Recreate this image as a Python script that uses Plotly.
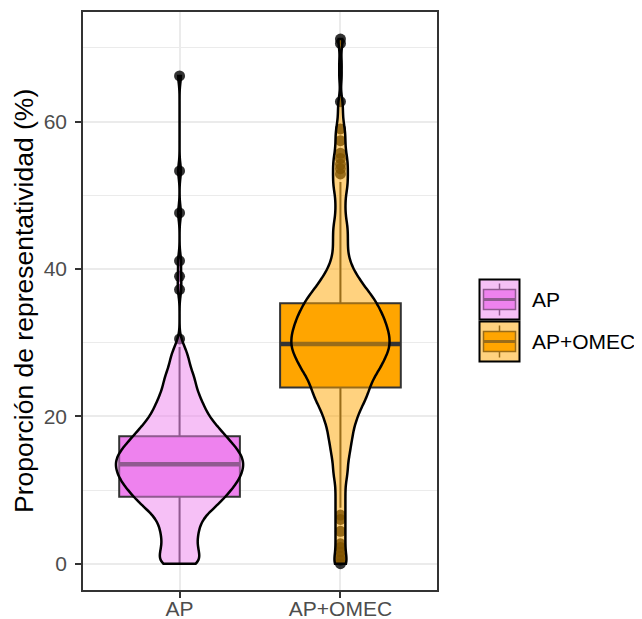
import numpy as np
import plotly.graph_objects as go

# ---------------- data ----------------
categories = ["AP", "AP+OMEC"]

# boxplot statistics
q1 = [9.1, 23.9]
medians = [13.5, 29.8]
q3 = [17.3, 35.35]
whisker_low = [0.0, 7.6]
whisker_high = [29.4, 51.8]

# outlier points
ap_outliers = [30.5, 37.2, 39.0, 41.1, 47.6, 53.3, 66.2]
omec_outliers = [0.0, 0.5, 1.0, 1.6, 2.2, 2.7, 4.4, 6.0, 6.6,
                 52.9, 53.6, 54.2, 55.0, 55.7, 57.4, 59.0, 62.7, 70.6, 71.2]

# estimated distribution of the observations (value -> count), for the violins
ap_values = list(range(0, 31)) + [37.2, 39.0, 41.1, 47.6, 53.3, 66.2]
ap_counts = [8, 6, 6, 5, 6, 6, 7, 9, 12, 14,
             16, 18, 19, 20, 20, 19, 17, 15, 13, 11,
             9, 8, 7, 6, 5, 5, 4, 3, 3, 2,
             1] + [1, 1, 1, 1, 1, 1]

omec_values = list(range(0, 64)) + [66, 68, 70.6, 71.2]
omec_counts = [4, 2, 2, 2, 2, 2, 2, 2, 2, 2,
               2, 2, 3, 3, 3, 4, 4, 5, 5, 6,
               7, 8, 10, 11, 12, 13, 15, 17, 18, 20,
               20, 20, 19, 18, 17, 15, 14, 11, 9, 7,
               5, 4, 3, 3, 3, 3, 3, 2, 2, 2,
               2, 3, 3, 3, 3, 3, 2, 2, 2, 2,
               1, 1, 1, 1] + [1, 1, 1, 1]

# ---------------- styling ----------------
FONT = "Liberation Sans, Arial, sans-serif"
fill_colors = ["#EE82EE", "#FFA500"]
violin_fills = ["rgba(238,130,238,0.5)", "rgba(255,165,0,0.5)"]
violin_widths = [0.79, 0.61]
box_line = "#333333"
grid = "#EBEBEB"

# the page body has an 8px margin; work in figure pixels
OFF = 8
FIG_W, FIG_H = 642 - OFF, 619 - OFF
L, R, T, B = 83 - OFF, 437 - OFF, 12 - OFF, 590 - OFF
W, H = R - L, B - T

samples = [np.repeat(ap_values, ap_counts), np.repeat(omec_values, omec_counts)]
outliers = [ap_outliers, omec_outliers]

fig = go.Figure()

for i, cat in enumerate(categories):
    fig.add_trace(go.Box(
        x=[cat], q1=[q1[i]], median=[medians[i]], q3=[q3[i]],
        lowerfence=[whisker_low[i]], upperfence=[whisker_high[i]],
        orientation="v", fillcolor=fill_colors[i],
        line=dict(color=box_line, width=2), width=0.75, whiskerwidth=0,
        boxpoints=False, showlegend=False, hoverinfo="skip"))
    # thicker median line
    fig.add_trace(go.Box(
        x=[cat], q1=[medians[i]], median=[medians[i]], q3=[medians[i]],
        lowerfence=[medians[i]], upperfence=[medians[i]],
        orientation="v", fillcolor="rgba(0,0,0,0)",
        line=dict(color=box_line, width=4.5), width=0.75, whiskerwidth=0,
        boxpoints=False, showlegend=False, hoverinfo="skip"))

for i, cat in enumerate(categories):
    fig.add_trace(go.Scatter(
        x=[cat] * len(outliers[i]), y=outliers[i], mode="markers",
        marker=dict(color="rgba(0,0,0,0.8)", size=11, line=dict(width=0)),
        showlegend=False, hoverinfo="skip"))

for i, cat in enumerate(categories):
    fig.add_trace(go.Violin(
        x=[cat] * len(samples[i]), y=samples[i], xaxis="x2", yaxis="y2",
        width=violin_widths[i], scalemode="width", spanmode="hard",
        bandwidth=1.0, side="both", fillcolor=violin_fills[i],
        line=dict(color="black", width=2.5), points=False,
        box_visible=False, meanline_visible=False,
        showlegend=False, hoverinfo="skip"))

yrange = [-3.57, 74.87]
xrange = [-0.6, 1.6]

axis_common = dict(
    showline=True, mirror=True, linecolor="#333333", linewidth=1.6,
    ticks="outside", ticklen=6, tickwidth=2, tickcolor="#333333",
    tickfont=dict(family=FONT, size=21, color="#4D4D4D"),
    showgrid=True, gridcolor=grid, gridwidth=2, zeroline=False,
)

fig.update_layout(
    width=FIG_W, height=FIG_H,
    margin=dict(l=L, r=FIG_W - R, t=T, b=FIG_H - B, autoexpand=False),
    paper_bgcolor="white", plot_bgcolor="white",
    boxmode="overlay", violinmode="overlay",
    showlegend=False,
    font=dict(family=FONT),
    xaxis=dict(type="category", categoryorder="array", categoryarray=categories,
               range=xrange, automargin=False, ticklabelstandoff=-7,
               **axis_common),
    yaxis=dict(range=yrange, tickvals=[0, 20, 40, 60], automargin=False,
               ticklabelstandoff=4,
               minor=dict(tickvals=[10, 30, 50, 70], showgrid=True,
                          gridcolor=grid, gridwidth=1, ticks=""),
               **axis_common),
    xaxis2=dict(type="category", categoryorder="array", categoryarray=categories,
                range=xrange, overlaying="x", anchor="y2", visible=False,
                showgrid=False),
    yaxis2=dict(range=yrange, overlaying="y", anchor="x2", visible=False,
                showgrid=False),
)

# y-axis title
fig.add_annotation(
    text="Proporción de representatividad (%)", textangle=-90,
    xref="paper", yref="paper", x=(24 - OFF - L) / W, y=0.5,
    xanchor="center", yanchor="middle", showarrow=False,
    font=dict(family=FONT, size=26.5, color="black"))

# ---------------- legend (drawn as key glyphs) ----------------
def px(x):
    return (x - OFF - L) / W


def py(y):
    return (B - (y - OFF)) / H


key_left, key_size = 479.5, 40
key_centers = [299.5, 341.5]
shapes = []
for i, cat in enumerate(categories):
    cy = key_centers[i]
    top, bot = cy - key_size / 2, cy + key_size / 2
    x0, x1 = key_left, key_left + key_size
    xm = (x0 + x1) / 2
    bx0, bx1 = x0 + 0.1 * key_size, x0 + 0.9 * key_size
    by0, by1 = top + 0.25 * key_size, top + 0.75 * key_size
    common = dict(xref="paper", yref="paper", layer="above")
    shapes.append(dict(type="rect", x0=px(x0), x1=px(x1), y0=py(top), y1=py(bot),
                       fillcolor="white", line=dict(width=0), **common))
    shapes.append(dict(type="line", x0=px(xm), x1=px(xm), y0=py(top + 0.1 * key_size),
                       y1=py(by0), line=dict(color=box_line, width=1.5), **common))
    shapes.append(dict(type="line", x0=px(xm), x1=px(xm), y0=py(by1),
                       y1=py(top + 0.9 * key_size), line=dict(color=box_line, width=1.5), **common))
    shapes.append(dict(type="rect", x0=px(bx0), x1=px(bx1), y0=py(by0), y1=py(by1),
                       fillcolor=fill_colors[i], line=dict(color=box_line, width=1.5), **common))
    shapes.append(dict(type="line", x0=px(bx0), x1=px(bx1), y0=py(cy), y1=py(cy),
                       line=dict(color=box_line, width=3), **common))
    shapes.append(dict(type="rect", x0=px(x0), x1=px(x1), y0=py(top), y1=py(bot),
                       fillcolor=violin_fills[i], line=dict(color="black", width=2), **common))
    fig.add_annotation(text=cat, xref="paper", yref="paper", x=px(530), y=py(cy),
                       xanchor="left", yanchor="middle", showarrow=False,
                       font=dict(family=FONT, size=21, color="black"))

fig.update_layout(shapes=shapes)

fig.write_html("out.html")
